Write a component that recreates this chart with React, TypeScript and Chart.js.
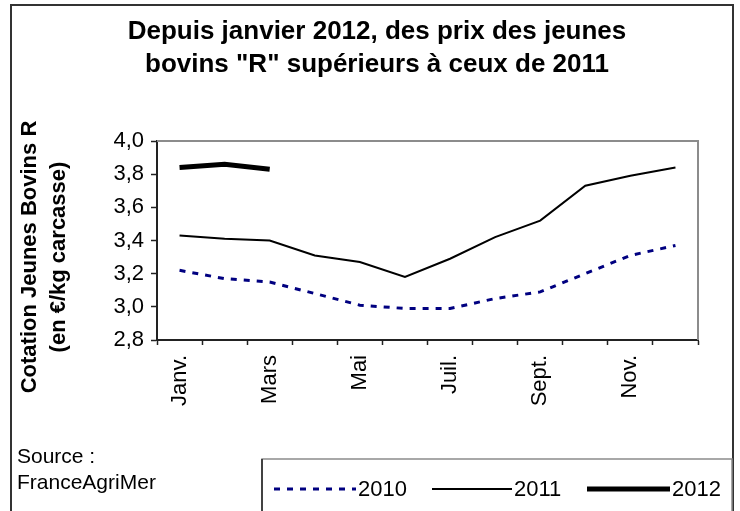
import React, { useEffect, useRef } from "react";
import { Chart, registerables } from "chart.js";

Chart.register(...registerables);

const months = ["Janv.", "Févr.", "Mars", "Avr.", "Mai", "Juin", "Juil.", "Août", "Sept.", "Oct.", "Nov.", "Déc."];
const values2010 = [3.22, 3.17, 3.15, 3.08, 3.01, 2.99, 2.99, 3.05, 3.09, 3.2, 3.31, 3.37];
const values2011 = [3.43, 3.41, 3.4, 3.31, 3.27, 3.18, 3.29, 3.42, 3.52, 3.73, 3.79, 3.84];
const values2012 = [3.84, 3.86, 3.83, null, null, null, null, null, null, null, null, null];
const seriesNames = ["2010", "2011", "2012"];
const titleLines = ["Depuis janvier 2012, des prix des jeunes", 'bovins "R" supérieurs à ceux de 2011'];
const yTitleLines = ["Cotation Jeunes Bovins R", "(en €/kg carcasse)"];
const sourceLines = ["Source :", "FranceAgriMer"];

const FONT = "'Liberation Sans', Arial, sans-serif";

const decorPlugin = {
  id: "decor",
  afterDraw(chart: any) {
    const ctx = chart.ctx as CanvasRenderingContext2D;
    const ca = chart.chartArea;
    ctx.save();
    // outer frame
    ctx.strokeStyle = "#333333";
    ctx.lineWidth = 2;
    ctx.strokeRect(11, 5, 722, 520);
    // plot frame top/right
    ctx.strokeStyle = "#8c8c8c";
    ctx.lineWidth = 2;
    ctx.beginPath();
    ctx.moveTo(ca.left, ca.top);
    ctx.lineTo(ca.right, ca.top);
    ctx.lineTo(ca.right, ca.bottom);
    ctx.stroke();
    // title
    ctx.fillStyle = "#000";
    ctx.textAlign = "center";
    ctx.textBaseline = "middle";
    ctx.font = `bold 26px ${FONT}`;
    ctx.fillText(titleLines[0], 377, 32);
    ctx.fillText(titleLines[1], 377, 65);
    // y axis title
    ctx.font = `bold 22px ${FONT}`;
    ctx.save();
    ctx.translate(0, 257);
    ctx.rotate(-Math.PI / 2);
    ctx.fillText(yTitleLines[0], 0, 30);
    ctx.fillText(yTitleLines[1], 0, 59);
    ctx.restore();
    // source
    ctx.textAlign = "left";
    ctx.textBaseline = "alphabetic";
    ctx.font = `21px ${FONT}`;
    ctx.fillText(sourceLines[0], 17, 463);
    ctx.fillText(sourceLines[1], 17, 489);
    // legend box
    ctx.lineWidth = 1.5;
    ctx.strokeStyle = "#8c8c8c";
    ctx.beginPath();
    ctx.moveTo(262, 530);
    ctx.lineTo(262, 459);
    ctx.lineTo(732, 459);
    ctx.lineTo(732, 530);
    ctx.stroke();
    ctx.strokeStyle = "#222";
    ctx.beginPath();
    ctx.moveTo(262, 530);
    ctx.lineTo(262, 459);
    ctx.stroke();
    const items = [
      { x0: 274, x1: 356, tx: 358 },
      { x0: 432, x1: 512, tx: 514 },
      { x0: 587, x1: 670, tx: 672 },
    ];
    const ly = 489;
    chart.data.datasets.forEach((ds: any, i: number) => {
      const it = items[i];
      ctx.strokeStyle = ds.borderColor;
      ctx.lineWidth = ds.borderWidth;
      ctx.setLineDash(ds.borderDash || []);
      ctx.beginPath();
      ctx.moveTo(it.x0, ly);
      ctx.lineTo(it.x1, ly);
      ctx.stroke();
      ctx.setLineDash([]);
      ctx.fillStyle = "#000";
      ctx.font = `22px ${FONT}`;
      ctx.textBaseline = "middle";
      ctx.fillText(ds.label, it.tx, ly + 1);
    });
    ctx.restore();
  },
};

export default function App() {
  const ref = useRef<HTMLCanvasElement>(null);
  useEffect(() => {
    document.body.style.margin = "0";
    const chart = new Chart(ref.current!, {
      type: "line",
      data: {
        labels: months,
        datasets: [
          {
            label: seriesNames[0],
            data: values2010,
            borderColor: "#000080",
            borderWidth: 3,
            borderDash: [6, 7],
            pointRadius: 0,
            fill: false,
            tension: 0,
          },
          {
            label: seriesNames[1],
            data: values2011,
            borderColor: "#000000",
            borderWidth: 2,
            pointRadius: 0,
            fill: false,
            tension: 0,
          },
          {
            label: seriesNames[2],
            data: values2012,
            borderColor: "#000000",
            borderWidth: 5,
            pointRadius: 0,
            fill: false,
            tension: 0,
            spanGaps: false,
          },
        ],
      },
      options: {
        animation: false,
        responsive: false,
        events: [],
        layout: { padding: { left: 70, top: 141, right: 42, bottom: 0 } },
        plugins: {
          legend: { display: false },
          title: { display: false },
          tooltip: { enabled: false },
        },
        scales: {
          x: {
            type: "category",
            offset: true,
            grid: {
              offset: true,
              display: true,
              drawOnChartArea: false,
              drawTicks: true,
              tickLength: 5,
              tickColor: "#222",
              tickWidth: 1.5,
            },
            border: { display: true, color: "#222", width: 2 },
            ticks: {
              autoSkip: false,
              minRotation: 90,
              maxRotation: 90,
              padding: 10,
              color: "#000",
              font: { family: FONT, size: 22 },
              callback: (_v: any, i: number) => (i % 2 === 0 ? months[i] : ""),
            },
            afterFit: (s: any) => {
              s.height = 171;
            },
          },
          y: {
            min: 2.8,
            max: 4.0,
            grid: {
              display: true,
              drawOnChartArea: false,
              drawTicks: true,
              tickLength: 6,
              tickColor: "#222",
              tickWidth: 1.5,
            },
            border: { display: true, color: "#222", width: 2 },
            ticks: {
              stepSize: 0.2,
              padding: 7,
              color: "#000",
              font: { family: FONT, size: 22 },
              callback: (v: any) => Number(v).toFixed(1).replace(".", ","),
            },
            afterFit: (s: any) => {
              s.width = 87;
            },
          },
        },
      },
      plugins: [decorPlugin],
    });
    return () => chart.destroy();
  }, []);
  return <canvas ref={ref} width={740} height={511} style={{ display: "block" }} />;
}
